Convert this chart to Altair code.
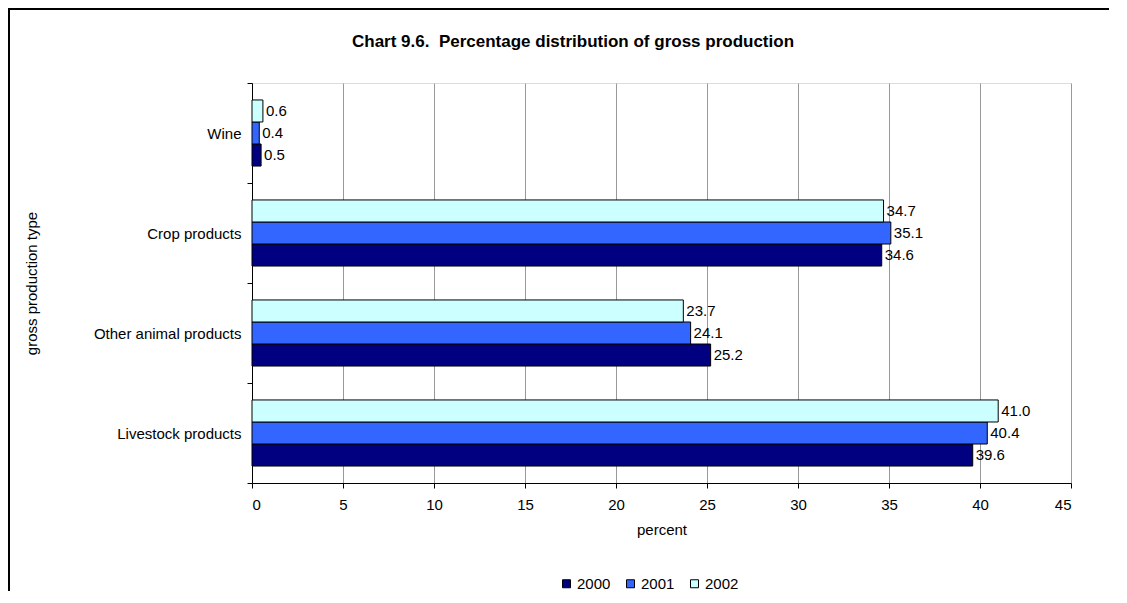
import altair as alt
import pandas as pd

categories = ["Wine", "Crop products", "Other animal products", "Livestock products"]
years = ["2000", "2001", "2002"]
v2000 = [0.5, 34.6, 25.2, 39.6]
v2001 = [0.4, 35.1, 24.1, 40.4]
v2002 = [0.6, 34.7, 23.7, 41.0]
colors = ["#000080", "#3366FF", "#CCFFFF"]
title_text = ["Chart 9.6.\u00a0\u00a0Percentage distribution of gross production"]

rows = []
for yr, vals in zip(years, [v2000, v2001, v2002]):
    for c, v in zip(categories, vals):
        rows.append({"type": c, "year": yr, "value": v, "label": f"{v:.1f}"})
df = pd.DataFrame(rows)

FONT = "Liberation Sans"
FS = 15
W, H = 819, 400
PL, PT, PR, PB = 244, 75, 40, 110

base = alt.Chart(df).encode(
    y=alt.Y("type:N", sort=categories, title="gross production type",
            scale=alt.Scale(paddingInner=0, paddingOuter=0),
            axis=alt.Axis(tickBand="extent", domainColor="black", tickColor="black",
                          tickSize=5, labelPadding=6, labelFontSize=FS, labelColor="black",
                          titleFontSize=FS, titleFontWeight="normal", titleColor="black",
                          titleX=-221, titleY=200, titleAngle=270, titleAlign="center",
                          titleBaseline="middle", grid=False, labelFont=FONT, titleFont=FONT)),
    yOffset=alt.YOffset("year:N", sort=["2002", "2001", "2000"],
                        scale=alt.Scale(paddingOuter=0.77, paddingInner=0)),
)

bars = base.mark_bar(stroke="black", strokeWidth=1).encode(
    x=alt.X("value:Q", title="percent",
            scale=alt.Scale(domain=[0, 45], nice=False),
            axis=alt.Axis(values=list(range(0, 50, 5)), grid=True, gridColor="#999999",
                          gridWidth=1, domainColor="black", tickColor="black", tickSize=5,
                          labelPadding=9, labelFontSize=FS, labelColor="black",
                          titleFontSize=FS, titleFontWeight="normal", titleColor="black",
                          titlePadding=10, labelFont=FONT, titleFont=FONT)),
    color=alt.Color("year:N", scale=alt.Scale(domain=years, range=colors),
                    legend=alt.Legend(title=None, orient="none", direction="horizontal",
                                      legendX=307, legendY=493, symbolType="square",
                                      symbolSize=64, symbolStrokeColor="black",
                                      symbolStrokeWidth=1, labelFontSize=FS,
                                      labelColor="black", labelFont=FONT,
                                      columnPadding=12, labelOffset=3)),
)

labels = base.mark_text(align="left", baseline="middle", dx=3, fontSize=FS,
                        font=FONT, color="black").encode(
    x=alt.X("value:Q"),
    text="label:N",
)

title_df = pd.DataFrame({"t": title_text})
title = alt.Chart(title_df).mark_text(font=FONT, fontSize=17, fontWeight="bold",
                                      color="black", align="center",
                                      baseline="middle").encode(
    x=alt.value(321), y=alt.value(-41), text="t:N")

frame_df = pd.DataFrame({"k": [0]})
frame_left = alt.Chart(frame_df).mark_rule(color="black", strokeWidth=2).encode(
    x=alt.value(-243), y=alt.value(-PT), y2=alt.value(H + PB - 2))
frame_top = alt.Chart(frame_df).mark_rule(color="black", strokeWidth=2).encode(
    y=alt.value(-PT + 1), x=alt.value(-PL), x2=alt.value(W + PR - 2))

chart = alt.layer(bars, labels, title, frame_left, frame_top).properties(
    width=W, height=H,
    padding={"left": PL, "top": PT, "right": PR, "bottom": PB},
    autosize=alt.AutoSizeParams(type="none"),
).configure_view(strokeOpacity=0).configure(background="white")

chart.save("out.html", embed_options={"renderer": "svg", "actions": False})
